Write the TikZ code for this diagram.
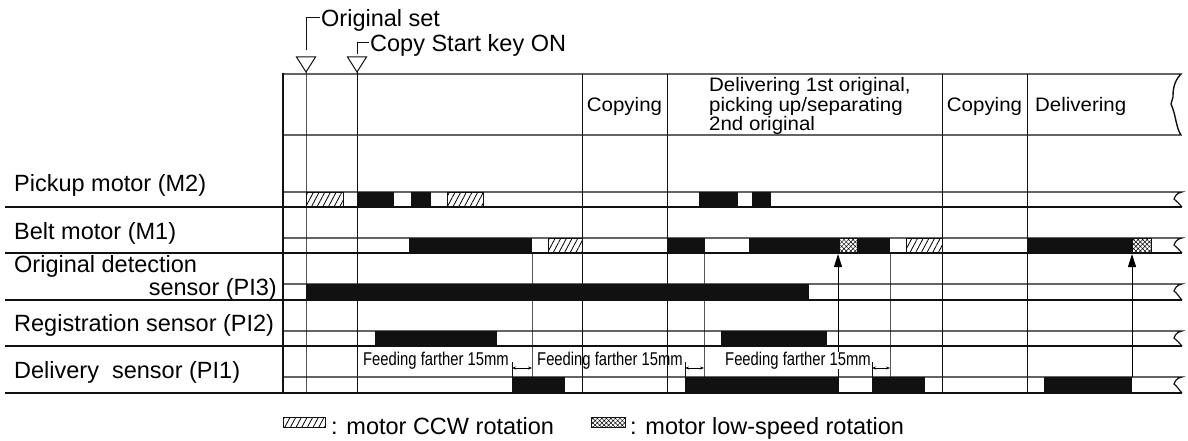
\documentclass[tikz,border=0pt]{standalone}
\usepackage{fontspec}
\setmainfont{Liberation Sans}
\newfontfamily\feedfont[FakeStretch=0.8]{Liberation Sans}
\newfontfamily\hdrfont[FakeStretch=1.05]{Liberation Sans}
\usetikzlibrary{patterns.meta,arrows.meta}
\definecolor{chartInk}{HTML}{111111}
\definecolor{chartGrey}{HTML}{555555}
\tikzset{
  rowline/.style={line width=1.4pt, chartInk},
  bandline/.style={line width=1.2pt, chartInk},
  boxline/.style={line width=2pt, chartInk},
  vline/.style={line width=1pt, chartInk},
  vthin/.style={line width=0.9pt, chartGrey},
  sig/.style={fill=chartInk},
  ccw/.style={draw=chartInk, line width=0.7pt,
    pattern={Lines[angle=62,distance=5pt,line width=0.8pt]}},
  slow/.style={draw=chartInk, line width=0.7pt,
    pattern={Hatch[angle=45,distance=3.2pt,line width=0.5pt]}},
  tri/.style={draw=chartInk, line width=1pt, fill=white},
  lbl/.style={font=\fontsize{23.5}{26}\selectfont, inner sep=0pt},
  hdr/.style={font=\hdrfont\fontsize{19.5}{19.3}\selectfont, inner sep=0pt},
  feed/.style={font=\feedfont\fontsize{18.5}{20}\selectfont, inner sep=0pt},
  dim/.style={{Stealth[length=4pt,width=3pt]}-{Stealth[length=4pt,width=3pt]}, line width=0.6pt},
  trig/.style={-{Stealth[length=13pt,width=8pt,inset=0pt]}, line width=1pt},
}
\newcommand{\sigband}[2]{%
  \draw[bandline] (283,#1) -- (1182,#1)
    .. controls (1176,{#1+1}) and (1175,{#1+5}) .. (1174,{#1+7})
    .. controls (1177,{#1+9}) and (1179,{#2-3}) .. (1182,#2);
  \draw[rowline] (5,#2) -- (1182,#2);}

\begin{document}
\begin{tikzpicture}[x=1pt, y=-1pt]
  \useasboundingbox (0,0) rectangle (1188,441);
  % time marks
  \draw[vthin] (306,72) -- (306,393);
  \draw[vline] (357,72) -- (357,393);
  \draw[vline] (582,74) -- (582,393);
  \draw[vline] (667,74) -- (667,393);
  \draw[vline] (942,74) -- (942,393);
  \draw[vline] (1027,74) -- (1027,393);
  \draw[vthin] (532,253) -- (532,393);
  \draw[vthin] (704,253) -- (704,393);
  \draw[vthin] (890,253) -- (890,393);
  \draw[tri] (296.5,57) -- (315.5,57) -- (306,72) -- cycle;
  \draw[tri] (347.5,57) -- (366.5,57) -- (357,72) -- cycle;
  \node[lbl, anchor=west] (origset) at (321,20.5) {Original set};
  \node[lbl, anchor=west] (copystart) at (370,45.5) {Copy Start key ON};
  \draw[vline, shorten <=1.5pt] ([yshift=2.5pt]origset.west) -| (306,50);
  \draw[vline, shorten <=1.5pt] ([yshift=2.5pt]copystart.west) -| (357,54);
  % header
  \draw[rowline] (283,74) -- (1181,74)
    .. controls (1173,82) and (1173,92) .. (1173,97) -- (1171,104)
    .. controls (1176,115) and (1176,128) .. (1181,135) -- (283,135);
  \draw[boxline] (283,73) -- (283,393);
  \node[hdr, anchor=base] (copy1) at (624.5,112) {Copying};
  \node[hdr, anchor=west, align=left] (deliv1) at (709,106)
    {Delivering 1st original,\\picking up/separating\\2nd original};
  \node[hdr, anchor=base] (copy2) at (984.5,112) {Copying};
  \node[hdr, anchor=base west] (deliv2) at (1035,112) {Delivering};
  % pickup motor (M2)
  \draw[ccw] (306,192) rectangle (343,207);
  \fill[sig] (357,192) rectangle (394,207);
  \fill[sig] (411,192) rectangle (431,207);
  \draw[ccw] (447,192) rectangle (483,207);
  \fill[sig] (699,192) rectangle (738,207);
  \fill[sig] (752,192) rectangle (771,207);
  % belt motor (M1)
  \fill[sig] (409,238) rectangle (532,253);
  \draw[ccw] (548,238) rectangle (582,253);
  \fill[sig] (667,238) rectangle (705,253);
  \fill[sig] (749,238) rectangle (839,253);
  \draw[slow] (839,238) rectangle (857,253);
  \fill[sig] (857,238) rectangle (890,253);
  \draw[ccw] (906,238) rectangle (942,253);
  \fill[sig] (1027,238) rectangle (1132,253);
  \draw[slow] (1132,238) rectangle (1151,253);
  % sensors
  \fill[sig] (306,284) rectangle (809,300);
  \fill[sig] (375,331) rectangle (497,346);
  \fill[sig] (721,331) rectangle (827,346);
  \fill[sig] (512,377) rectangle (565,393);
  \fill[sig] (685,377) rectangle (839,393);
  \fill[sig] (872,377) rectangle (925,393);
  \fill[sig] (1044,377) rectangle (1132,393);
  % bands and row lines
  \sigband{192}{207}
  \sigband{238}{253}
  \sigband{284}{300}
  \sigband{331}{346}
  \sigband{377}{393}
  \node[lbl, anchor=base west] (pickup) at (14,191) {Pickup motor (M2)};
  \node[lbl, anchor=base west] (belt) at (14,239) {Belt motor (M1)};
  \node[lbl, anchor=base west] (origdet) at (14,272) {Original detection};
  \node[lbl, anchor=base east] (origdet2) at (277,295) {sensor (PI3)};
  \node[lbl, anchor=base west] (regist) at (14,331) {Registration sensor (PI2)};
  \node[lbl, anchor=base west] (delivery) at (14,378) {Delivery\ \ sensor (PI1)};
  % feeding distances
  \draw[trig] (838,377) -- (838,254);
  \draw[trig] (1132,377) -- (1132,254);
  \node[feed, anchor=base west] (feed1) at (363,365) {Feeding farther 15mm};
  \node[feed, anchor=base west] (feed2) at (537,365) {Feeding farther 15mm};
  \node[feed, anchor=base west, fill=white] (feed3) at (725,365) {Feeding farther 15mm};
  \draw[vline, line width=0.7pt] (512,362) -- (512,377);
  \draw[vline, line width=0.7pt] (685,362) -- (685,377);
  \draw[vline, line width=0.7pt] (872,362) -- (872,377);
  \draw[dim] (512,368) -- (532,368);
  \draw[dim] (685,368) -- (704,368);
  \draw[dim] (872,368) -- (890,368);
  % key
  \draw[ccw] (283,417) rectangle (325,427);
  \node[lbl, anchor=base west] (ccwkey) at (331,434) {: motor CCW rotation};
  \draw[slow] (591,417) rectangle (625,427);
  \node[lbl, anchor=base west] (slowkey) at (630,434) {: motor low-speed rotation};
\end{tikzpicture}
\end{document}
